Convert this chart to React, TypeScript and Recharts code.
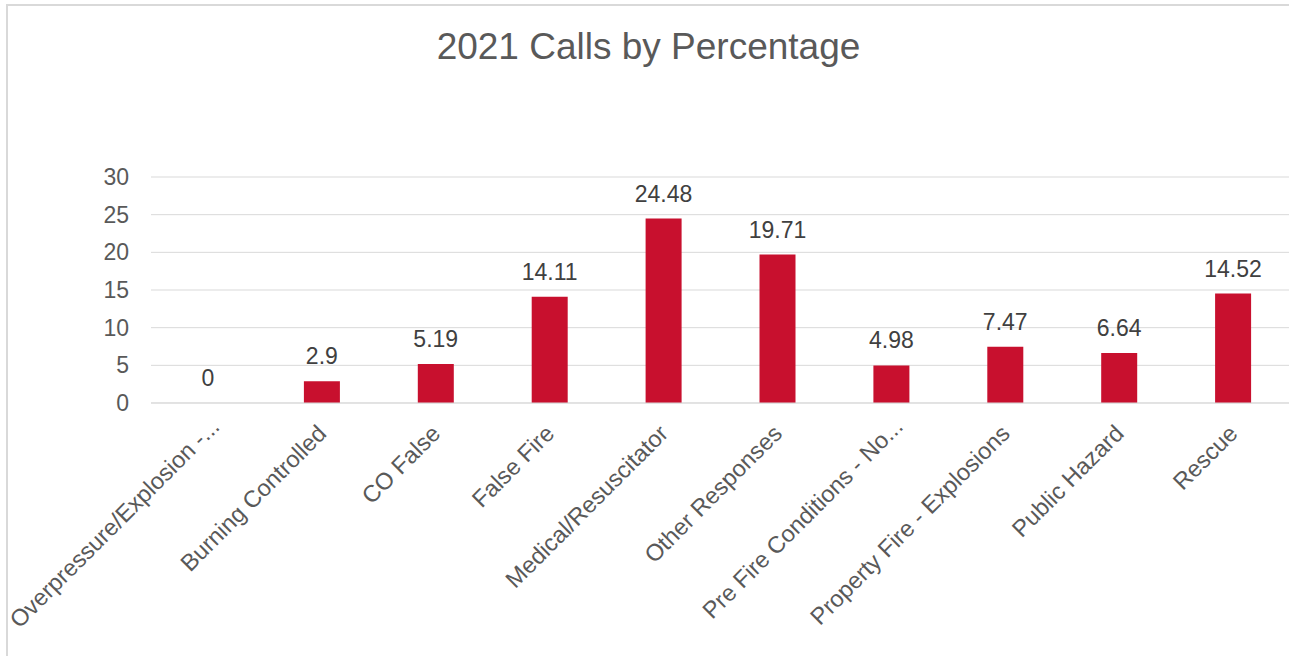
import React from 'react';
import { ComposedChart, Bar, Line, XAxis, YAxis, CartesianGrid, LabelList } from 'recharts';

const categories = [
  'Overpressure/Explosion -...',
  'Burning Controlled',
  'CO False',
  'False Fire',
  'Medical/Resuscitator',
  'Other Responses',
  'Pre Fire Conditions - No...',
  'Property Fire - Explosions',
  'Public Hazard',
  'Rescue',
];
const percentages = [0, 2.9, 5.19, 14.11, 24.48, 19.71, 4.98, 7.47, 6.64, 14.52];
const yTicks = [0, 5, 10, 15, 20, 25, 30];
const title = '2021 Calls by Percentage';

const data = categories.map((name, i) => ({ name, value: percentages[i] }));

const FONT = '"Liberation Sans", Arial, sans-serif';

const XTick = (props: any) => {
  const { x, y, payload } = props;
  const label = String(payload.value);
  const extra = label.endsWith('...') ? 7 : 0;
  return (
    <g transform={`translate(${x + 6 + extra},${y + 24 - extra})`}>
      <text
        x={0}
        y={0}
        textAnchor="end"
        transform="rotate(-45)"
        fill="#595959"
        fontSize={23.5}
        fontFamily={FONT}
      >
        {label}
      </text>
    </g>
  );
};

export default function App() {
  return (
    <div
      style={{
        position: 'absolute',
        left: 0,
        top: 0,
        width: 1289,
        height: 656,
        overflow: 'hidden',
        background: '#fff',
        fontFamily: FONT,
      }}
    >
      <div
        style={{
          position: 'absolute',
          left: 6,
          top: 4,
          width: 1400,
          height: 800,
          border: '2px solid #D9D9D9',
          boxSizing: 'border-box',
        }}
      />
      <div
        style={{
          position: 'absolute',
          left: 0,
          width: 1297,
          top: 25,
          textAlign: 'center',
          fontSize: 37,
          lineHeight: '44px',
          color: '#595959',
          fontFamily: FONT,
        }}
      >
        {title}
      </div>
      <div style={{ position: 'absolute', left: 0, top: 0 }}>
        <ComposedChart
          width={1300}
          height={656}
          data={data}
          margin={{ top: 177, right: 10, left: 0, bottom: 0 }}
        >
          <CartesianGrid vertical={false} stroke="#D9D9D9" strokeWidth={1} />
          <XAxis
            dataKey="name"
            height={253}
            axisLine={{ stroke: '#D9D9D9' }}
            tickLine={false}
            interval={0}
            tick={<XTick />}
          />
          <YAxis
            width={151}
            domain={[0, 30]}
            ticks={yTicks}
            axisLine={false}
            tickLine={false}
            tickMargin={16}
            tick={{ fill: '#595959', fontSize: 23, fontFamily: FONT }}
          />
          <Bar dataKey="value" fill="#C8102E" barSize={36} isAnimationActive={false} />
          <Line
            dataKey="value"
            stroke="none"
            dot={false}
            activeDot={false}
            legendType="none"
            isAnimationActive={false}
          >
            <LabelList
              dataKey="value"
              position="top"
              offset={17}
              fill="#404040"
              fontSize={23}
              fontFamily={FONT}
            />
          </Line>
        </ComposedChart>
      </div>
    </div>
  );
}
